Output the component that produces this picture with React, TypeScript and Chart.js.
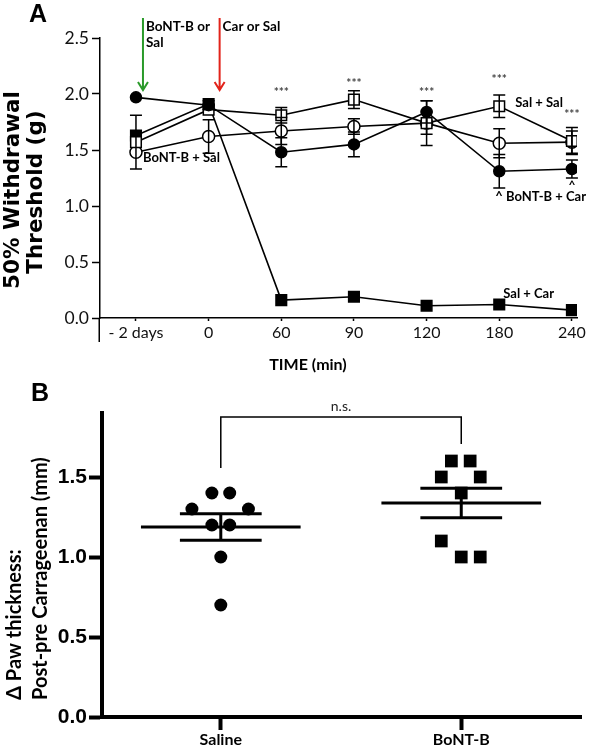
import React, { useEffect, useRef } from 'react';
import { Chart, registerables } from 'chart.js';

Chart.register(...registerables);

// ---------------- Panel A data ----------------
const timeLabels = ['- 2 days', '0', '60', '90', '120', '180', '240'];
const bontCar = [1.97, 1.9, 1.48, 1.55, 1.84, 1.31, 1.33];
const bontCarSem = [0.02, 0.04, 0.13, 0.11, 0.1, 0.15, 0.08];
const salSal = [1.57, 1.86, 1.81, 1.95, 1.74, 1.89, 1.58];
const salSalSem = [0.24, 0.05, 0.07, 0.08, 0.2, 0.1, 0.12];
const bontSal = [1.48, 1.62, 1.67, 1.71, 1.74, 1.56, 1.57];
const bontSalSem = [0.04, 0.15, 0.12, 0.07, 0.1, 0.13, 0.1];
const salCar = [1.63, 1.91, 0.16, 0.19, 0.11, 0.12, 0.07];
const salCarSem = [0.04, 0.05, 0.02, 0.03, 0.02, 0.02, 0.02];
const starMarks = ['', '', '***', '***', '***', '***', '***'];
const starLevels = [0, 0, 2.02, 2.1, 2.02, 2.13, 1.82];
const yTicksA = [0, 0.5, 1, 1.5, 2, 2.5];

// ---------------- Panel B data ----------------
const groupLabels = ['Saline', 'BoNT-B'];
const salineVals = [1.4, 1.4, 1.3, 1.3, 1.2, 1.2, 1.0, 0.7];
const salineJitter = [-0.037, 0.037, -0.12, 0.115, -0.037, 0.037, 0, 0];
const bontVals = [1.6, 1.6, 1.5, 1.5, 1.4, 1.1, 1.0, 1.0];
const bontJitter = [-0.041, 0.037, -0.083, 0.079, 0, -0.083, 0, 0.079];
const yTicksB = [0, 0.5, 1, 1.5];

const seriesA = [
  { vals: bontCar, sem: bontCarSem, style: 'circle', radius: 5.5, fill: '#000' },
  { vals: salSal, sem: salSalSem, style: 'rect', radius: 7.5, fill: '#fff' },
  { vals: bontSal, sem: bontSalSem, style: 'circle', radius: 6, fill: '#fff' },
  { vals: salCar, sem: salCarSem, style: 'rect', radius: 7.5, fill: '#000' },
];

function text(ctx: CanvasRenderingContext2D, s: string, x: number, y: number, font: string, color = '#000', align: CanvasTextAlign = 'left', baseline: CanvasTextBaseline = 'middle') {
  ctx.save();
  ctx.font = font;
  ctx.fillStyle = color;
  ctx.textAlign = align;
  ctx.textBaseline = baseline;
  ctx.fillText(s, x, y);
  ctx.restore();
}

function vtext(ctx: CanvasRenderingContext2D, s: string, x: number, y: number, font: string, align: CanvasTextAlign) {
  ctx.save();
  ctx.translate(x, y);
  ctx.rotate(-Math.PI / 2);
  ctx.font = font;
  ctx.fillStyle = '#000';
  ctx.textAlign = align;
  ctx.textBaseline = 'middle';
  ctx.fillText(s, 0, 0);
  ctx.restore();
}

function arrow(ctx: CanvasRenderingContext2D, x: number, y1: number, y2: number, color: string) {
  ctx.save();
  ctx.strokeStyle = color;
  ctx.lineWidth = 2;
  ctx.beginPath();
  ctx.moveTo(x, y1);
  ctx.lineTo(x, y2);
  ctx.moveTo(x - 5, y2 - 8);
  ctx.lineTo(x, y2);
  ctx.lineTo(x + 5, y2 - 8);
  ctx.stroke();
  ctx.restore();
}

const errorBarsA = {
  id: 'errorBarsA',
  afterDatasetsDraw(chart: any) {
    const { ctx, scales } = chart;
    const x = scales.x, y = scales.y;
    ctx.save();
    ctx.strokeStyle = '#000';
    ctx.lineWidth = 1.5;
    seriesA.forEach((s) => {
      s.vals.forEach((v, i) => {
        const px = x.getPixelForValue(i);
        const top = y.getPixelForValue(v + s.sem[i]);
        const bot = y.getPixelForValue(v - s.sem[i]);
        if (bot - top < 2 * s.radius * 0.8) return;
        ctx.beginPath();
        ctx.moveTo(px, top); ctx.lineTo(px, bot);
        ctx.moveTo(px - 6, top); ctx.lineTo(px + 6, top);
        ctx.moveTo(px - 6, bot); ctx.lineTo(px + 6, bot);
        ctx.stroke();
      });
    });
    ctx.restore();
  },
};

const annotationsA = {
  id: 'annotationsA',
  afterDraw(chart: any) {
    const { ctx, chartArea, scales } = chart;
    const x = scales.x, y = scales.y;
    // y axis extension below the x axis
    ctx.save();
    ctx.strokeStyle = '#000';
    ctx.lineWidth = 1.5;
    ctx.beginPath();
    ctx.moveTo(chartArea.left - 0.75, chartArea.bottom);
    ctx.lineTo(chartArea.left - 0.75, chartArea.bottom + 24);
    ctx.stroke();
    ctx.restore();

    text(ctx, 'A', 38, 15, 'bold 25px "Liberation Sans"', '#000', 'center');
    vtext(ctx, '50% Withdrawal', 13, 190, 'bold 21.5px "DejaVu Sans"', 'center');
    vtext(ctx, 'Threshold (g)', 36, 192, 'bold 21.5px "DejaVu Sans"', 'center');
    text(ctx, 'TIME (min)', 308, 365, 'bold 16px Lato', '#000', 'center');

    const x0 = x.getPixelForValue(0);
    const x1 = x.getPixelForValue(1);
    arrow(ctx, x0 + 7, 18, 90, '#2a9a2a');
    arrow(ctx, x1 + 11, 18, 90, '#e2231a');
    text(ctx, 'BoNT-B or', x0 + 10, 27, 'bold 13.5px Lato');
    text(ctx, 'Sal', x0 + 10, 43, 'bold 13.5px Lato');
    text(ctx, 'Car or Sal', x1 + 14, 27, 'bold 13.5px Lato');

    starMarks.forEach((s, i) => {
      if (!s) return;
      text(ctx, s, x.getPixelForValue(i), y.getPixelForValue(starLevels[i]), 'bold 12px Lato', '#444', 'center');
    });

    text(ctx, 'BoNT-B + Sal', x0 + 7, y.getPixelForValue(1.43), 'bold 13px Lato');
    text(ctx, 'Sal + Sal', x.getPixelForValue(5) + 16, y.getPixelForValue(1.92), 'bold 13px Lato');
    text(ctx, '^', x.getPixelForValue(6), y.getPixelForValue(1.19), 'bold 12px Lato', '#000', 'center');
    text(ctx, '^ BoNT-B + Car', x.getPixelForValue(5) - 4, y.getPixelForValue(1.08), 'bold 13px Lato');
    text(ctx, 'Sal + Car', x.getPixelForValue(5) + 4, y.getPixelForValue(0.215), 'bold 13px Lato');
  },
};

const summaryB = {
  id: 'summaryB',
  afterDatasetsDraw(chart: any) {
    const { ctx, scales } = chart;
    const x = scales.x, y = scales.y;
    ctx.save();
    ctx.strokeStyle = '#000';
    ctx.lineWidth = 3;
    [salineVals, bontVals].forEach((vals, g) => {
      const n = vals.length;
      const mean = vals.reduce((a, b) => a + b, 0) / n;
      const sd = Math.sqrt(vals.reduce((a, b) => a + (b - mean) * (b - mean), 0) / (n - 1));
      const sem = sd / Math.sqrt(n);
      const yM = y.getPixelForValue(mean);
      const yT = y.getPixelForValue(mean + sem);
      const yB = y.getPixelForValue(mean - sem);
      ctx.beginPath();
      ctx.moveTo(x.getPixelForValue(g - 0.332), yM);
      ctx.lineTo(x.getPixelForValue(g + 0.332), yM);
      ctx.moveTo(x.getPixelForValue(g - 0.17), yT);
      ctx.lineTo(x.getPixelForValue(g + 0.17), yT);
      ctx.moveTo(x.getPixelForValue(g - 0.17), yB);
      ctx.lineTo(x.getPixelForValue(g + 0.17), yB);
      ctx.moveTo(x.getPixelForValue(g), yT);
      ctx.lineTo(x.getPixelForValue(g), yB);
      ctx.stroke();
    });
    // significance bracket
    ctx.lineWidth = 1.5;
    const bx0 = x.getPixelForValue(0), bx1 = x.getPixelForValue(1);
    const by = y.getPixelForValue(1.875);
    ctx.beginPath();
    ctx.moveTo(bx0, y.getPixelForValue(1.556));
    ctx.lineTo(bx0, by);
    ctx.lineTo(bx1, by);
    ctx.lineTo(bx1, y.getPixelForValue(1.706));
    ctx.stroke();
    ctx.restore();
    text(ctx, 'n.s.', (bx0 + bx1) / 2, y.getPixelForValue(1.94), '14px Lato', '#222', 'center');
  },
  afterDraw(chart: any) {
    const { ctx } = chart;
    text(ctx, 'B', 40, 19, 'bold 25px "Liberation Sans"', '#000', 'center');
    vtext(ctx, '\u0394 Paw thickness:', 15, 325, 'bold 20px Lato', 'left');
    vtext(ctx, 'Post-pre Carrageenan (mm)', 41, 325, 'bold 20px Lato', 'left');
  },
};

function configA(): any {
  const markerSets = seriesA.map((s) => ({
    data: s.vals.map((v, i) => ({ x: i, y: v })),
    showLine: false,
    pointStyle: s.style,
    pointRadius: s.radius,
    pointBackgroundColor: s.fill,
    pointBorderColor: '#000',
    pointBorderWidth: 1.5,
    borderColor: '#000',
  }));
  const lineSets = seriesA.map((s) => ({
    data: s.vals.map((v, i) => ({ x: i, y: v })),
    showLine: true,
    pointRadius: 0,
    borderColor: '#000',
    borderWidth: 1.6,
    tension: 0,
    fill: false,
  }));
  return {
    type: 'line',
    data: { datasets: [...markerSets, ...lineSets] },
    options: {
      responsive: false,
      animation: false,
      devicePixelRatio: 1,
      layout: { padding: { top: 38, right: 13, left: 0, bottom: 0 } },
      plugins: { legend: { display: false }, tooltip: { enabled: false } },
      scales: {
        x: {
          type: 'linear',
          min: -0.495,
          max: 6.07,
          afterBuildTicks: (s: any) => { s.ticks = timeLabels.map((_, i) => ({ value: i })); },
          afterFit: (s: any) => { s.height = 57; },
          ticks: {
            autoSkip: false,
            maxRotation: 0,
            padding: 2,
            color: '#111',
            font: { family: 'Lato', size: 16 },
            callback: (_v: any, i: number) => timeLabels[i],
          },
          grid: { drawOnChartArea: false, drawTicks: true, tickLength: 3, tickWidth: 1.5, tickColor: '#000' },
          border: { display: true, color: '#000', width: 1.5 },
        },
        y: {
          type: 'linear',
          min: 0,
          max: 2.5,
          afterBuildTicks: (s: any) => { s.ticks = yTicksA.map((v) => ({ value: v })); },
          afterFit: (s: any) => { s.width = 100; },
          ticks: {
            padding: 3,
            color: '#111',
            font: { family: 'Lato', size: 17.5 },
            callback: (v: any) => Number(v).toFixed(1),
          },
          grid: { drawOnChartArea: false, drawTicks: true, tickLength: 8, tickWidth: 1.5, tickColor: '#000' },
          border: { display: true, color: '#000', width: 1.5 },
        },
      },
    },
    plugins: [errorBarsA, annotationsA],
  };
}

function configB(): any {
  return {
    type: 'scatter',
    data: {
      datasets: [
        {
          data: salineVals.map((v, i) => ({ x: 0 + salineJitter[i], y: v })),
          pointStyle: 'circle',
          pointRadius: 6.5,
          pointBackgroundColor: '#000',
          pointBorderColor: '#000',
          pointBorderWidth: 0,
        },
        {
          data: bontVals.map((v, i) => ({ x: 1 + bontJitter[i], y: v })),
          pointStyle: 'rect',
          pointRadius: 9,
          pointBackgroundColor: '#000',
          pointBorderColor: '#000',
          pointBorderWidth: 0,
        },
      ],
    },
    options: {
      responsive: false,
      animation: false,
      devicePixelRatio: 1,
      layout: { padding: { top: 38, right: 8, left: 0, bottom: 0 } },
      plugins: { legend: { display: false }, tooltip: { enabled: false } },
      scales: {
        x: {
          type: 'linear',
          min: -0.494,
          max: 1.498,
          afterBuildTicks: (s: any) => { s.ticks = groupLabels.map((_, i) => ({ value: i })); },
          afterFit: (s: any) => { s.height = 33; },
          ticks: {
            autoSkip: false,
            maxRotation: 0,
            padding: 0,
            color: '#000',
            font: { family: 'Lato', size: 16, weight: 'bold' },
            callback: (_v: any, i: number) => groupLabels[i],
          },
          grid: { drawOnChartArea: false, drawTicks: true, tickLength: 13, tickWidth: 4, tickColor: '#000' },
          border: { display: true, color: '#000', width: 4 },
        },
        y: {
          type: 'linear',
          min: 0,
          max: 1.9,
          afterBuildTicks: (s: any) => { s.ticks = yTicksB.map((v) => ({ value: v })); },
          afterFit: (s: any) => { s.width = 102; },
          ticks: {
            padding: 2,
            color: '#000',
            font: { family: 'Liberation Sans', size: 21, weight: 'bold' },
            callback: (v: any) => Number(v).toFixed(1),
          },
          grid: { drawOnChartArea: false, drawTicks: true, tickLength: 13, tickWidth: 4, tickColor: '#000' },
          border: { display: true, color: '#000', width: 4 },
        },
      },
    },
    plugins: [summaryB],
  };
}

export default function App() {
  const refA = useRef<HTMLCanvasElement>(null);
  const refB = useRef<HTMLCanvasElement>(null);
  useEffect(() => {
    const a = new Chart(refA.current as HTMLCanvasElement, configA());
    const b = new Chart(refB.current as HTMLCanvasElement, configB());
    return () => {
      a.destroy();
      b.destroy();
    };
  }, []);
  return (
    <div style={{ position: 'absolute', left: 0, top: 0, width: 590, height: 750, background: '#fff' }}>
      <canvas ref={refA} width={590} height={375} style={{ position: 'absolute', left: 0, top: 0, width: 590, height: 375 }} />
      <canvas ref={refB} width={590} height={375} style={{ position: 'absolute', left: 0, top: 375, width: 590, height: 375 }} />
    </div>
  );
}
